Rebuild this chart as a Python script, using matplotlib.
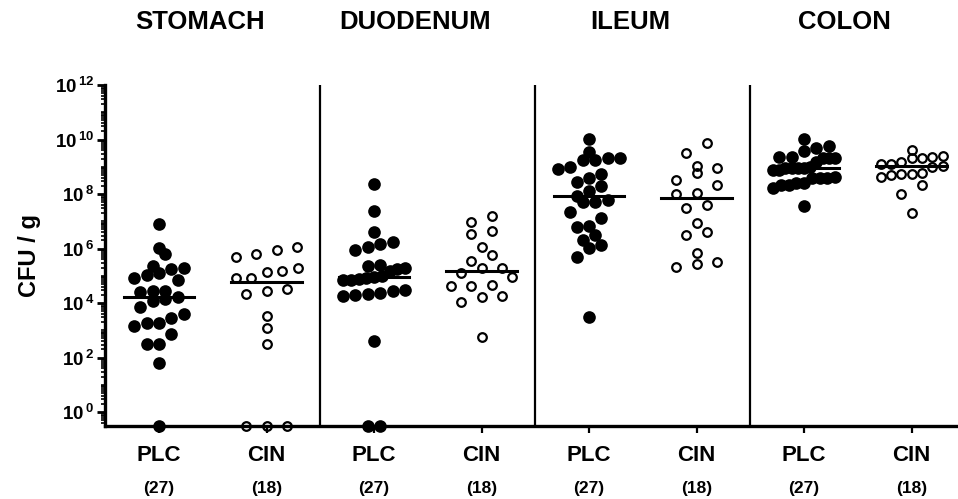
import matplotlib
matplotlib.use("Agg")
import matplotlib.pyplot as plt
import matplotlib.transforms as mtrans
from matplotlib.ticker import LogLocator, FixedLocator, NullFormatter
import numpy as np

plt.rcParams['font.family'] = ['Liberation Sans', 'DejaVu Sans']
plt.rcParams['font.weight'] = 'bold'
plt.rcParams['mathtext.fontset'] = 'custom'
plt.rcParams['mathtext.bf'] = 'Liberation Sans:bold'
plt.rcParams['mathtext.rm'] = 'Liberation Sans:bold'

# log10(CFU/g) per animal, None = below detection (drawn on the axis)
stomach_plc = [6.90, 6.01, 5.79, 5.37, 5.28, 5.25, 5.11, 5.04, 4.91, 4.84, 4.45, 4.45, 4.41,
               4.22, 4.15, 4.08, 3.84, 3.59, 3.44, 3.28, 3.26, 3.16, 2.86, 2.48, 2.48, 1.81, None]
stomach_cin = [6.04, 5.94, 5.79, 5.70, 5.27, 5.17, 5.13, 4.91, 4.91, 4.51, 4.45, 4.33,
               3.52, 3.07, 2.50, None, None, None]
duodenum_plc = [8.36, 7.38, 6.62, 6.23, 6.17, 6.07, 5.94, 5.39, 5.37, 5.27, 5.24, 5.19, 4.99,
                4.94, 4.91, 4.88, 4.84, 4.84, 4.48, 4.45, 4.36, 4.33, 4.29, 4.27, 2.61, None, None]
duodenum_cin = [7.19, 6.98, 6.65, 6.53, 6.04, 5.76, 5.55, 5.27, 5.27, 5.09, 4.94, 4.66,
                4.62, 4.62, 4.26, 4.23, 4.05, 2.76]
ileum_plc = [10.01, 9.53, 9.31, 9.31, 9.25, 9.25, 9.00, 8.91, 8.72, 8.60, 8.45, 8.29, 8.12,
             7.93, 7.78, 7.72, 7.72, 7.35, 7.13, 6.83, 6.78, 6.50, 6.31, 6.13, 6.01, 5.70, 3.50]
ileum_cin = [9.86, 9.52, 9.04, 8.94, 8.78, 8.51, 8.33, 8.05, 8.00, 7.60, 7.48, 6.95,
             6.62, 6.50, 5.82, 5.52, 5.43, 5.33]
colon_plc = [10.01, 9.77, 9.68, 9.58, 9.37, 9.37, 9.31, 9.31, 9.31, 9.19, 9.00, 8.94, 8.94,
             8.94, 8.94, 8.88, 8.88, 8.63, 8.58, 8.58, 8.58, 8.39, 8.39, 8.33, 8.33, 8.21, 7.57]
colon_cin = [9.61, 9.41, 9.37, 9.33, 9.31, 9.16, 9.09, 9.09, 9.04, 9.00, 8.76, 8.72,
             8.72, 8.70, 8.63, 8.33, 7.99, 7.29]

regions = ['STOMACH', 'DUODENUM', 'ILEUM', 'COLON']
groups = ['PLC', 'CIN']
counts = ['(27)', '(18)']
series = [stomach_plc, stomach_cin, duodenum_plc, duodenum_cin,
          ileum_plc, ileum_cin, colon_plc, colon_cin]

ylog_min, ylog_max = -0.495, 12

fig = plt.figure(figsize=(9.58, 4.99), dpi=100)
ax = fig.add_axes([105.25 / 958, 73.5 / 499, 860 / 958, 340.5 / 499])
ax.set_yscale('log')
ax.set_xlim(-0.5, 7.5)
ax.set_ylim(10 ** ylog_min, 10 ** ylog_max)

# pixel scales, used to lay the swarm out
p0 = ax.transData.transform((0, 1))
px_x = ax.transData.transform((1, 1))[0] - p0[0]
px_dec = ax.transData.transform((0, 10))[1] - p0[1]


def swarm(logv, step_px, max_w_px, row_px):
    logv = np.asarray(logv)
    order = np.argsort(logv, kind='stable')
    rows = []
    for i in order:
        if rows and (logv[i] - logv[rows[-1][0]]) * px_dec < row_px:
            rows[-1].append(i)
        else:
            rows.append([i])
    off = np.zeros(len(logv))
    for r in rows:
        n = len(r)
        st = step_px if n == 1 else min(step_px, max_w_px / (n - 1))
        for k, i in enumerate(r):
            off[i] = (k - (n - 1) / 2) * st
    return off / px_x


for j, vals in enumerate(series):
    logv = np.array([ylog_min if v is None else v for v in vals])
    lin = np.array([0.0 if v is None else 10 ** v for v in vals])
    filled = (j % 2 == 0)
    off = swarm(logv, 12.4 if filled else 20.6, 62, 12.0)
    if filled:
        ax.plot(j + off, 10 ** logv, 'o', ms=9.1, mfc='black', mec='black', mew=0,
                clip_on=False, zorder=3)
    else:
        ax.plot(j + off, 10 ** logv, 'o', ms=6.2, mfc='none', mec='black', mew=1.6,
                clip_on=False, zorder=3)
    ax.plot([j - 0.33, j + 0.33], [np.median(lin)] * 2, color='black', lw=2.2, zorder=4)

for xd in [1.5, 3.5, 5.5]:
    ax.axvline(xd, color='black', lw=1.6, zorder=1)

for s in ['top', 'right']:
    ax.spines[s].set_visible(False)
ax.spines['left'].set_linewidth(2.4)
ax.spines['bottom'].set_linewidth(2.4)

ax.yaxis.set_major_locator(FixedLocator([10.0 ** e for e in range(0, 13, 2)]))
ax.set_yticklabels([r'$\mathbf{10^{\,%d}}$' % e for e in range(0, 13, 2)])
ax.yaxis.set_minor_locator(LogLocator(base=10, subs=np.arange(1, 10), numticks=30))
ax.yaxis.set_minor_formatter(NullFormatter())
ax.tick_params(axis='y', which='major', length=6, width=2, labelsize=13.5, pad=2)
ax.tick_params(axis='y', which='minor', length=3, width=1.2)

ax.set_xticks(range(8))
ax.set_xticklabels([])
ax.tick_params(axis='x', which='major', length=5, width=1.6)

xt = ax.get_xaxis_transform()
for j in range(8):
    ax.text(j, -0.087, groups[j % 2], transform=xt, ha='center', va='center',
            fontsize=16, fontweight='bold')
    ax.text(j, -0.184, counts[j % 2], transform=xt, ha='center', va='center',
            fontsize=12.5, fontweight='bold')

tt = mtrans.blended_transform_factory(ax.transData, fig.transFigure)
for g, name in enumerate(regions):
    ax.text(2 * g + 0.5 - 0.12, 1 - 22 / 499, name, transform=tt, ha='center', va='center',
            fontsize=18.5, fontweight='bold')

ax.set_ylabel('CFU / g', fontsize=17, fontweight='bold')
ax.yaxis.set_label_coords(-0.075, 0.5)

fig.savefig('out.png', dpi=100)
